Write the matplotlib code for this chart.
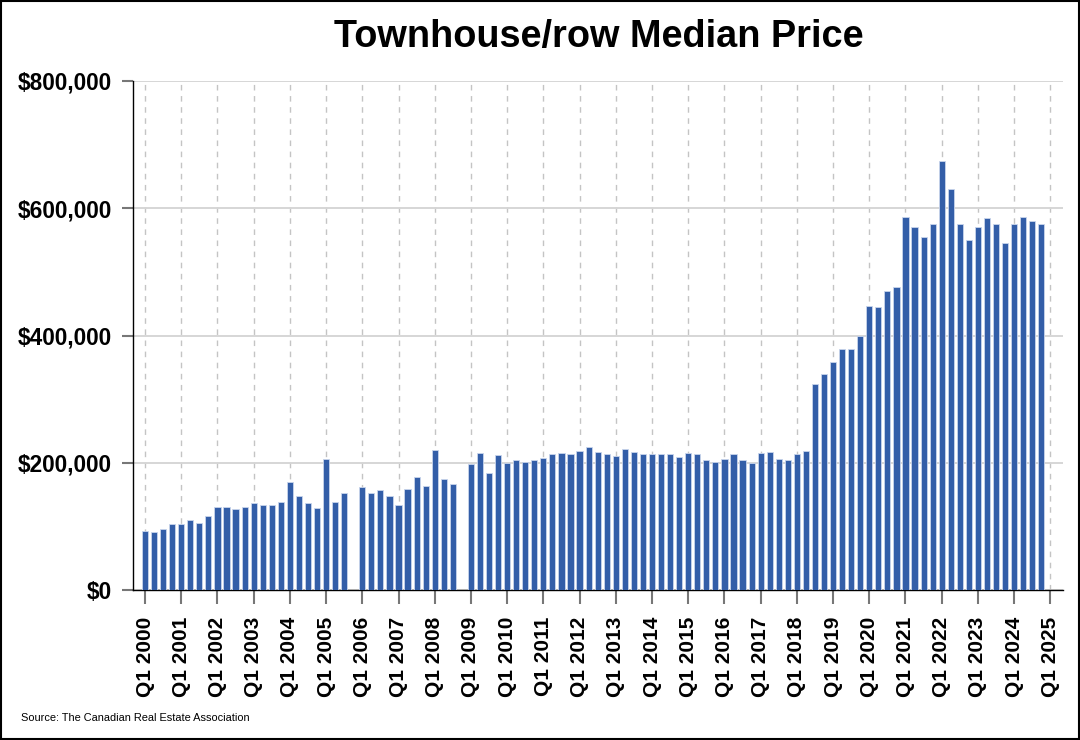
import numpy as np
import matplotlib
matplotlib.use("Agg")
import matplotlib.pyplot as plt
from matplotlib.patches import Rectangle
from matplotlib.ticker import FuncFormatter

plt.rcParams['font.family'] = ['Liberation Sans', 'DejaVu Sans']

title = "Townhouse/row Median Price"
source = "Source: The Canadian Real Estate Association"

years = list(range(2000, 2025))
quarters = [f"Q{q} {y}" for y in years for q in range(1, 5)]

# Median price per quarter, Q1 2000 .. Q4 2024 (None = no data)
prices = [
    92000, 91000, 96000, 103000,      # 2000
    104000, 110000, 105000, 117000,   # 2001
    130000, 130000, 128000, 130000,   # 2002
    136000, 134000, 133000, 139000,   # 2003
    169000, 148000, 136000, 129000,   # 2004
    206000, 139000, 153000, None,     # 2005
    162000, 152000, 157000, 148000,   # 2006
    134000, 158000, 178000, 164000,   # 2007
    220000, 175000, 166000, None,     # 2008
    198000, 216000, 184000, 212000,   # 2009
    199000, 205000, 201000, 204000,   # 2010
    208000, 214000, 216000, 214000,   # 2011
    219000, 225000, 217000, 214000,   # 2012
    211000, 222000, 217000, 213000,   # 2013
    214000, 214000, 214000, 209000,   # 2014
    216000, 214000, 205000, 201000,   # 2015
    206000, 214000, 204000, 200000,   # 2016
    215000, 217000, 206000, 204000,   # 2017
    214000, 219000, 324000, 339000,   # 2018
    358000, 379000, 379000, 399000,   # 2019
    447000, 445000, 470000, 476000,   # 2020
    587000, 571000, 555000, 575000,   # 2021
    675000, 630000, 575000, 550000,   # 2022
    570000, 584000, 575000, 545000,   # 2023
    575000, 587000, 580000, 575000,   # 2024
]

tick_labels = [f"Q1 {y}" for y in range(2000, 2026)]
y_ticks = [0, 200000, 400000, 600000, 800000]

fig = plt.figure(figsize=(10.8, 7.4), dpi=100)
ax = fig.add_axes([133/1080, 1-590/740, (1063-133)/1080, (590-81)/740])

x = np.arange(len(prices))
vals = np.array([np.nan if v is None else v for v in prices], dtype=float)
ax.bar(x, vals, width=0.68, color='#335ea8', edgecolor='#c9d5ec', linewidth=0.6, zorder=3)

ax.set_xlim(-1.33, 101.4)
ax.set_ylim(0, 800000)

tick_pos = np.arange(0, 101, 4)
ax.set_xticks(tick_pos)
ax.set_xticklabels(tick_labels, rotation=90, fontsize=15, fontweight='bold', va='top', ha='center')
ax.set_yticks(y_ticks)
ax.yaxis.set_major_formatter(FuncFormatter(lambda v, p: f"${int(v):,}"))

ax.tick_params(axis='x', length=10, width=1.5, color='#777777', pad=9)
ax.tick_params(axis='y', length=8, width=1.5, color='#777777', pad=7)
for lab in ax.get_yticklabels():
    lab.set_fontweight('bold')
    lab.set_fontsize(16.3)

ax.grid(axis='y', color='#d6d6d6', linewidth=1.4, linestyle='-', zorder=0)
ax.grid(axis='x', color='#c4c4c4', linewidth=1.0, linestyle=(0, (4, 4)), zorder=0)
ax.set_axisbelow(True)

for s in ['top', 'right']:
    ax.spines[s].set_visible(False)
ax.spines['left'].set_color('black')
ax.spines['bottom'].set_color('black')
ax.spines['left'].set_linewidth(1.0)
ax.spines['bottom'].set_linewidth(1.0)

fig.text(599/1080, 1-37/740, title, fontsize=27.3, fontweight='bold', ha='center', va='center')
fig.text(21/1080, 1-718/740, source, fontsize=7.9, ha='left', va='center')

fig.patches.append(Rectangle((0.001, 0.001), 0.998, 0.998, transform=fig.transFigure,
                             fill=False, edgecolor='black', linewidth=1.5, zorder=10))

fig.savefig("out.png", dpi=100)
